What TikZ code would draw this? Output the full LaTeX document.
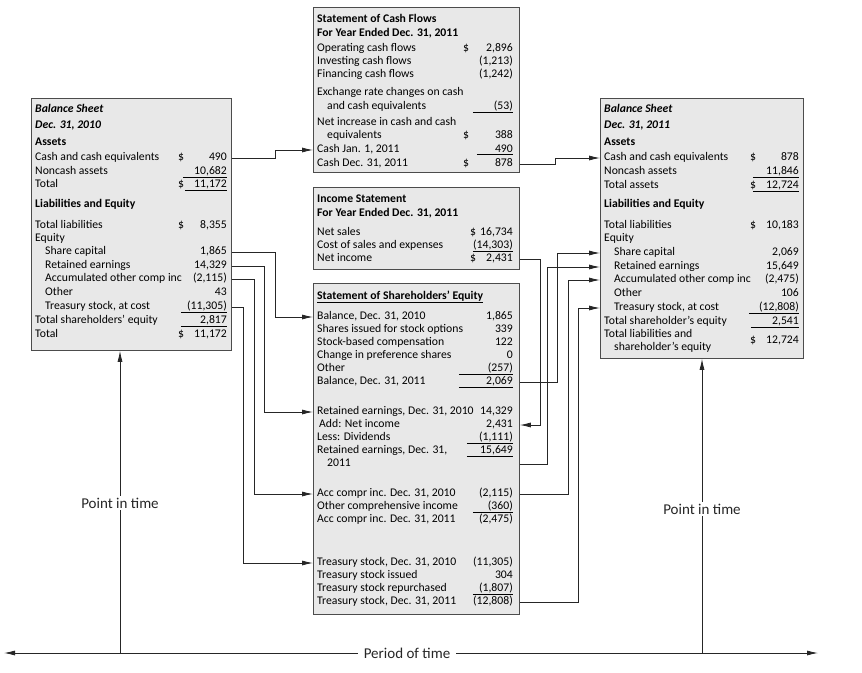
\documentclass[tikz,border=0pt]{standalone}
\usepackage{fontspec}
\setmainfont{Carlito}
\usetikzlibrary{arrows.meta}
\newcommand{\colrule}[2][44pt]{\underline{\makebox[#1][r]{#2}}}

\begin{document}
\begin{tikzpicture}[x=1pt,y=-1pt,
	box/.style={draw=black!70,fill=black!9,line width=0.8pt,inner sep=0pt,anchor=north west},
	txt/.style={anchor=mid west,inner sep=0pt,font=\fontsize{11.7}{13}\selectfont},
	num/.style={txt,anchor=mid east},
	link/.style={draw=black!85,line width=0.8pt,-{Latex[length=11pt,width=5pt]}},
	big/.style={fill=white,text=black!85,inner xsep=6pt,inner ysep=2pt,font=\fontsize{15}{18}\selectfont}]
	\useasboundingbox (0,0) rectangle (862,672);

	\node[box,minimum width=200pt,minimum height=252pt] (bsA) at (31,98) {};
	\node[box,minimum width=206pt,minimum height=165pt] (scf) at (313,7) {};
	\node[box,minimum width=206pt,minimum height=82pt] (is) at (313,187) {};
	\node[box,minimum width=206pt,minimum height=331pt] (se) at (313,283) {};
	\node[box,minimum width=203pt,minimum height=260pt] (bsB) at (600,98) {};

	\foreach \y/\x/\lab/\dol/\val [count=\i] in {
		110/0/{\textbf{\textit{Balance Sheet}}}/{}/{},
		126/0/{\textbf{\textit{Dec. 31, 2010}}}/{}/{},
		143/0/\textbf{Assets}/{}/{},
		158/0/Cash and cash equivalents/\$/490,
		172/0/Noncash assets/{}/{\colrule{10,682}},
		185/0/Total/\$/{\colrule[42pt]{11,172}},
		205/0/\textbf{Liabilities and Equity}/{}/{},
		226/0/Total liabilities/\$/{8,355},
		239/0/Equity/{}/{},
		252/10/Share capital/{}/{1,865},
		266/10/Retained earnings/{}/{14,329},
		279/10/Accumulated other comp inc/{}/{(2,115)},
		293/10/Other/{}/43,
		307/10/{Treasury stock, at cost}/{}/{\colrule[46pt]{(11,305)}},
		321/0/Total shareholders' equity/{}/{\colrule[46pt]{2,817}},
		335/0/Total/\$/{11,172}}{
		\node[txt] (a\i) at (35+\x,\y) {\lab};
		\node[txt] (ad\i) at (178,\y) {\dol};
		\node[num] (av\i) at (227,\y) {\val};
	}

	\foreach \y/\x/\lab/\dol/\val [count=\i] in {
		20/0/\textbf{Statement of Cash Flows}/{}/{},
		34/0/{\textbf{For Year Ended Dec. 31, 2011}}/{}/{},
		49/0/Operating cash flows/\$/{2,896},
		62/0/Investing cash flows/{}/{(1,213)},
		75/0/Financing cash flows/{}/{(1,242)},
		93/0/Exchange rate changes on cash/{}/{},
		107/10/and cash equivalents/{}/{\colrule[40pt]{(53)}},
		123/0/Net increase in cash and cash/{}/{},
		136/10/equivalents/\$/388,
		150/0/{Cash Jan. 1, 2011}/{}/{\colrule[36pt]{490}},
		164/0/{Cash Dec. 31, 2011}/\$/878}{
		\node[txt] (c\i) at (317+\x,\y) {\lab};
		\node[txt] (cd\i) at (463,\y) {\dol};
		\node[num] (cv\i) at (513,\y) {\val};
	}

	\foreach \y/\x/\lab/\dol/\val [count=\i] in {
		200/0/\textbf{Income Statement}/{}/{},
		214/0/{\textbf{For Year Ended Dec. 31, 2011}}/{}/{},
		233/0/Net sales/\$/{16,734},
		246/0/Cost of sales and expenses/{}/{\colrule[40pt]{(14,303)}},
		259/0/Net income/\$/{2,431}}{
		\node[txt] (n\i) at (317+\x,\y) {\lab};
		\node[txt] (nd\i) at (470,\y) {\dol};
		\node[num] (nv\i) at (513,\y) {\val};
	}

	\foreach \y/\x/\lab/\val [count=\i] in {
		297/0/{\underline{\textbf{Statement of Shareholders' Equity}}}/{},
		317/0/{Balance, Dec. 31, 2010}/{1,865},
		330/0/Shares issued for stock options/339,
		343/0/Stock-based compensation/122,
		356/0/Change in preference shares/0,
		369/0/Other/{\colrule[54pt]{(257)}},
		382/0/{Balance, Dec. 31, 2011}/{\colrule[54pt]{2,069}},
		412/0/{Retained earnings, Dec. 31, 2010}/{14,329},
		425/2/Add: Net income/{2,431},
		438/0/Less: Dividends/{\colrule[46pt]{(1,111)}},
		451/0/{Retained earnings, Dec. 31,}/{\colrule[46pt]{15,649}},
		464/10/2011/{},
		494/0/{Acc compr inc. Dec. 31, 2010}/{(2,115)},
		507/0/Other comprehensive income/{\colrule[40pt]{(360)}},
		520/0/{Acc compr inc. Dec. 31, 2011}/{(2,475)},
		563/0/{Treasury stock, Dec. 31, 2010}/{(11,305)},
		576/0/Treasury stock issued/304,
		589/0/Treasury stock repurchased/{\colrule[40pt]{(1,807)}},
		602/0/{Treasury stock, Dec. 31, 2011}/{(12,808)}}{
		\node[txt] (s\i) at (317+\x,\y) {\lab};
		\node[num] (sv\i) at (513,\y) {\val};
	}

	\foreach \y/\x/\lab/\dol/\val [count=\i] in {
		110/0/{\textbf{\textit{Balance Sheet}}}/{}/{},
		126/0/{\textbf{\textit{Dec. 31, 2011}}}/{}/{},
		143/0/\textbf{Assets}/{}/{},
		158/0/Cash and cash equivalents/\$/878,
		172/0/Noncash assets/{}/{\colrule[46pt]{11,846}},
		186/0/Total assets/\$/{\colrule[46pt]{12,724}},
		205/0/\textbf{Liabilities and Equity}/{}/{},
		226/0/Total liabilities/\$/{10,183},
		239/0/Equity/{}/{},
		253/10/Share capital/{}/{2,069},
		267/10/Retained earnings/{}/{15,649},
		280/10/Accumulated other comp inc/{}/{(2,475)},
		294/10/Other/{}/106,
		308/10/{Treasury stock, at cost}/{}/{\colrule[50pt]{(12,808)}},
		322/0/Total shareholder's equity/{}/{\colrule[48pt]{2,541}},
		335/0/Total liabilities and/{}/{},
		348/10/shareholder's equity/{}/{},
		341/0/{}/\$/{12,724}}{
		\node[txt] (b\i) at (604+\x,\y) {\lab};
		\node[txt] (bd\i) at (750,\y) {\dol};
		\node[num] (bv\i) at (799,\y) {\val};
	}

	\draw[link] (bsA.east |- a4.mid) -- ++(44,0) |- (scf.west |- c10.mid);
	\draw[link] (scf.east |- c11.mid) -- ++(36,0) |- (bsB.west |- b4.mid);
	\draw[link] (bsA.east |- a10.mid) -- ++(44,0) |- (se.west |- s2.mid);
	\draw[link] (bsA.east |- a11.mid) -- ++(33,0) |- (se.west |- s8.mid);
	\draw[link] (bsA.east |- a12.mid) -- ++(23,0) |- (se.west |- s13.mid);
	\draw[link] (bsA.east |- a14.mid) -- ++(12,0) |- (se.west |- s16.mid);
	\draw[link] (is.east |- n5.mid) -- ++(21,0) |- (se.east |- s9.mid);
	\draw[link] (se.east |- s7.mid) -- ++(38,0) |- (bsB.west |- b10.mid);
	\draw[link] (se.east |- s12.mid) -- ++(28,0) |- (bsB.west |- b11.mid);
	\draw[link] (se.east |- s13.mid) -- ++(49,0) |- (bsB.west |- b12.mid);
	\draw[link] (se.east |- s19.mid) -- ++(59,0) |- (bsB.west |- b14.mid);

	\coordinate (tL) at (4,653);
	\coordinate (tR) at (818,653);
	\coordinate (pA) at (120,653);
	\coordinate (pB) at (702,653);
	\draw[link,{Latex[length=11pt,width=5pt]}-{Latex[length=11pt,width=5pt]}] (tL) -- (tR);
	\draw[link] (pA) -- (pA |- bsA.south);
	\draw[link] (pB) -- (pB |- bsB.south);
	\node[big] (ptA) at (120,503) {Point in time};
	\node[big] (ptB) at (702,509) {Point in time};
	\node[big] (pot) at (407,653) {Period of time};
\end{tikzpicture}
\end{document}
